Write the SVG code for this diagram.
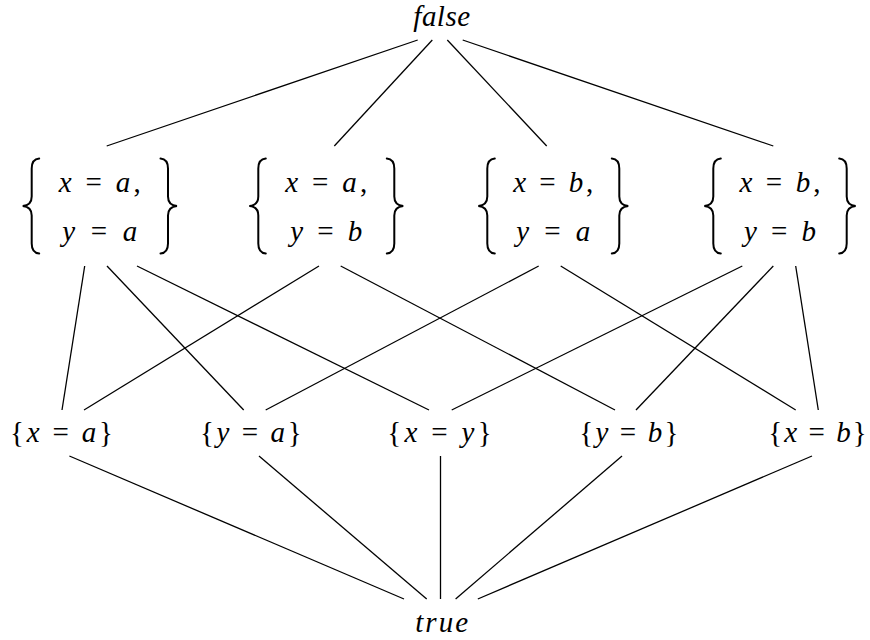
<svg xmlns="http://www.w3.org/2000/svg" xmlns:xlink="http://www.w3.org/1999/xlink" width="870" height="640" viewBox="0 0 870 640">
<style>
  .lbl { font-size: 29px; fill: #000; text-anchor: middle; }
  .i { font-style: italic; }
  .e { stroke: #000; stroke-width: 1.3; fill: none; }
  .br { stroke: #000; stroke-width: 2; fill: none; stroke-linecap: round; }
</style>
<defs>
  <path id="lbrace" class="br" d="M16.5,0 C11,0.5 9,3.5 9,10 L9,38 C9,44 6,47 0,47.5 C6,48 9,51 9,57 L9,85 C9,91.5 11,94.5 16.5,95"/>
</defs>
<rect width="870" height="640" fill="#fff"/>
<g id="edges">
  <line class="e" x1="417.7" y1="40" x2="106.7" y2="146"/>
  <line class="e" x1="432.3" y1="40" x2="334.3" y2="146"/>
  <line class="e" x1="447.3" y1="40" x2="546.7" y2="146"/>
  <line class="e" x1="462.7" y1="40" x2="773.3" y2="146"/>
  <line class="e" x1="84.7" y1="266" x2="62" y2="410"/>
  <line class="e" x1="107" y1="266" x2="243.7" y2="410"/>
  <line class="e" x1="137" y1="266" x2="429" y2="410"/>
  <line class="e" x1="319" y1="266" x2="84" y2="410"/>
  <line class="e" x1="340.7" y1="266" x2="615" y2="410"/>
  <line class="e" x1="538.7" y1="266" x2="265.7" y2="410"/>
  <line class="e" x1="560.7" y1="266" x2="795.7" y2="410"/>
  <line class="e" x1="742.3" y1="266" x2="451.7" y2="410"/>
  <line class="e" x1="773.3" y1="266" x2="636" y2="410"/>
  <line class="e" x1="795.7" y1="266" x2="818.3" y2="410"/>
  <line class="e" x1="69.4" y1="456" x2="404" y2="599"/>
  <line class="e" x1="259" y1="456" x2="426.7" y2="599"/>
  <line class="e" x1="440.5" y1="456" x2="440.5" y2="599"/>
  <line class="e" x1="622" y1="456" x2="455.6" y2="599"/>
  <line class="e" x1="812" y1="456" x2="477.8" y2="599"/>
</g>
<g font-family="Liberation Serif, serif">
<g id="n-false">
  <text class="lbl i" x="441.7" y="26" textLength="56.7" lengthAdjust="spacing">false</text>
</g>
<g id="n-xa-ya">
  <use xlink:href="#lbrace" transform="translate(22.7,158.5)"/>
  <use xlink:href="#lbrace" transform="translate(177,158.5) scale(-1,1)"/>
  <text class="lbl" x="99.8" y="192" textLength="82" lengthAdjust="spacing"><tspan class="i">x</tspan> = <tspan class="i">a</tspan>,</text>
  <text class="lbl" x="99.8" y="241" textLength="75" lengthAdjust="spacing"><tspan class="i">y</tspan> = <tspan class="i">a</tspan></text>
</g>
<g id="n-xa-yb">
  <use xlink:href="#lbrace" transform="translate(249.3,158.5)"/>
  <use xlink:href="#lbrace" transform="translate(403.3,158.5) scale(-1,1)"/>
  <text class="lbl" x="326.3" y="192" textLength="82" lengthAdjust="spacing"><tspan class="i">x</tspan> = <tspan class="i">a</tspan>,</text>
  <text class="lbl" x="326.3" y="241" textLength="72" lengthAdjust="spacing"><tspan class="i">y</tspan> = <tspan class="i">b</tspan></text>
</g>
<g id="n-xb-ya">
  <use xlink:href="#lbrace" transform="translate(478.3,158.5)"/>
  <use xlink:href="#lbrace" transform="translate(628.3,158.5) scale(-1,1)"/>
  <text class="lbl" x="553.3" y="192" textLength="80" lengthAdjust="spacing"><tspan class="i">x</tspan> = <tspan class="i">b</tspan>,</text>
  <text class="lbl" x="553.3" y="241" textLength="74" lengthAdjust="spacing"><tspan class="i">y</tspan> = <tspan class="i">a</tspan></text>
</g>
<g id="n-xb-yb">
  <use xlink:href="#lbrace" transform="translate(704.3,158.5)"/>
  <use xlink:href="#lbrace" transform="translate(855.7,158.5) scale(-1,1)"/>
  <text class="lbl" x="780" y="192" textLength="81" lengthAdjust="spacing"><tspan class="i">x</tspan> = <tspan class="i">b</tspan>,</text>
  <text class="lbl" x="780" y="241" textLength="72" lengthAdjust="spacing"><tspan class="i">y</tspan> = <tspan class="i">b</tspan></text>
</g>
<g id="n-xa">
  <text class="lbl" x="61.5" y="441.5" textLength="103" lengthAdjust="spacing">{<tspan class="i">x</tspan> = <tspan class="i">a</tspan>}</text>
</g>
<g id="n-ya">
  <text class="lbl" x="250.8" y="441.5" textLength="101.7" lengthAdjust="spacing">{<tspan class="i">y</tspan> = <tspan class="i">a</tspan>}</text>
</g>
<g id="n-xy">
  <text class="lbl" x="439.5" y="441.5" textLength="104.4" lengthAdjust="spacing">{<tspan class="i">x</tspan> = <tspan class="i">y</tspan>}</text>
</g>
<g id="n-yb">
  <text class="lbl" x="628.8" y="441.5" textLength="99" lengthAdjust="spacing">{<tspan class="i">y</tspan> = <tspan class="i">b</tspan>}</text>
</g>
<g id="n-xb">
  <text class="lbl" x="817.5" y="441.5" textLength="98.4" lengthAdjust="spacing">{<tspan class="i">x</tspan> = <tspan class="i">b</tspan>}</text>
</g>
<g id="n-true">
  <text class="lbl i" x="441.7" y="632" textLength="53" lengthAdjust="spacing">true</text>
</g>
</g>
</svg>
